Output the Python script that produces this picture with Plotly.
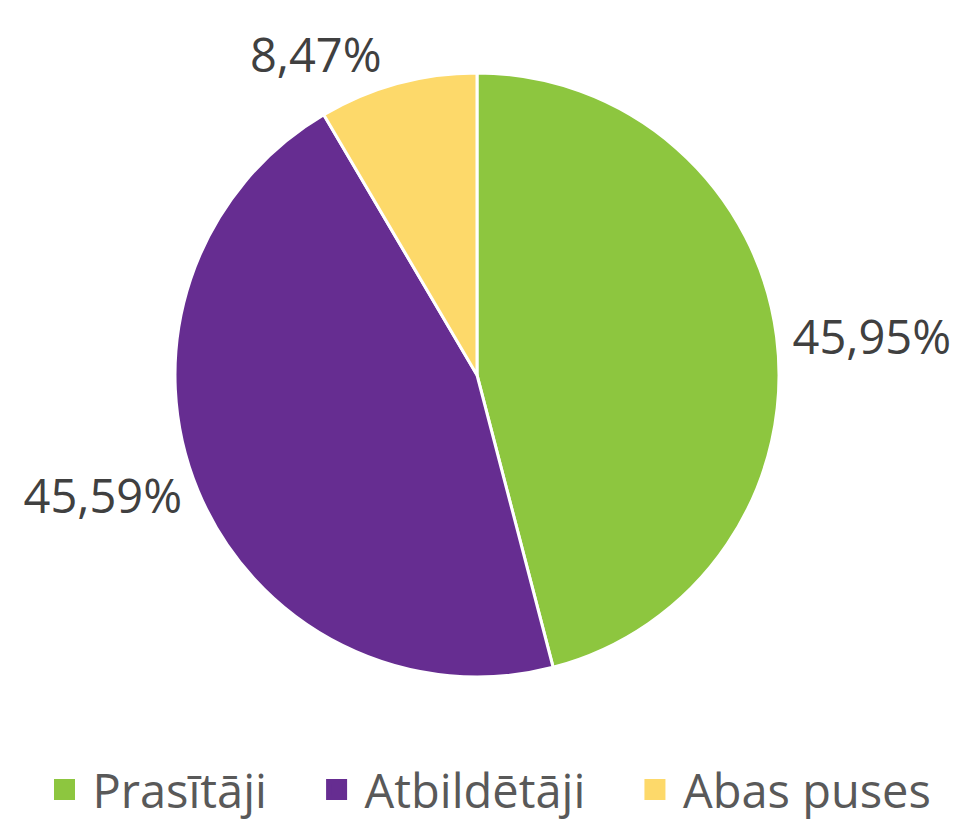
import plotly.graph_objects as go

labels = ["Prasītāji", "Atbildētāji", "Abas puses"]
values = [45.95, 45.59, 8.47]
colors = ["#8DC63F", "#662D91", "#FDD96A"]

W, H = 973, 821
cx, cy, r = 477, 375, 302

fig = go.Figure()
fig.add_trace(go.Pie(
    labels=labels,
    values=values,
    sort=False,
    direction="clockwise",
    rotation=0,
    marker=dict(colors=colors, line=dict(color="white", width=3)),
    texttemplate="%{value:.2f}%",
    textposition="outside",
    textfont=dict(family="Open Sans", size=47, color="#404040"),
    automargin=False,
    showlegend=False,
    hoverinfo="label+value",
    domain=dict(x=[(cx - r) / W, (cx + r) / W], y=[(H - cy - r) / H, (H - cy + r) / H]),
))

# legend entries with larger square glyphs
pad = "\u00a0\u00a0\u00a0"
for i, (lab, col) in enumerate(zip(labels, colors)):
    fig.add_trace(go.Scatter(
        x=[None], y=[None], mode="markers",
        name=lab + (pad if i < len(labels) - 1 else ""),
        marker=dict(symbol="square", size=22, color=col, line=dict(color=col, width=5)),
        showlegend=True, hoverinfo="skip",
    ))

fig.update_layout(
    width=W, height=H,
    margin=dict(l=0, r=0, t=0, b=0, autoexpand=False),
    paper_bgcolor="white",
    plot_bgcolor="white",
    separators=",.",
    xaxis=dict(visible=False),
    yaxis=dict(visible=False),
    showlegend=True,
    legend=dict(
        orientation="h", x=0.5, xanchor="center", y=-0.008, yanchor="bottom",
        font=dict(family="Open Sans", size=47, color="#595959"),
        itemwidth=46, itemsizing="trace",
        bgcolor="rgba(0,0,0,0)",
    ),
)

fig.write_html("out.html", config={"displayModeBar": False},
               post_script="document.body.style.margin='0';")
